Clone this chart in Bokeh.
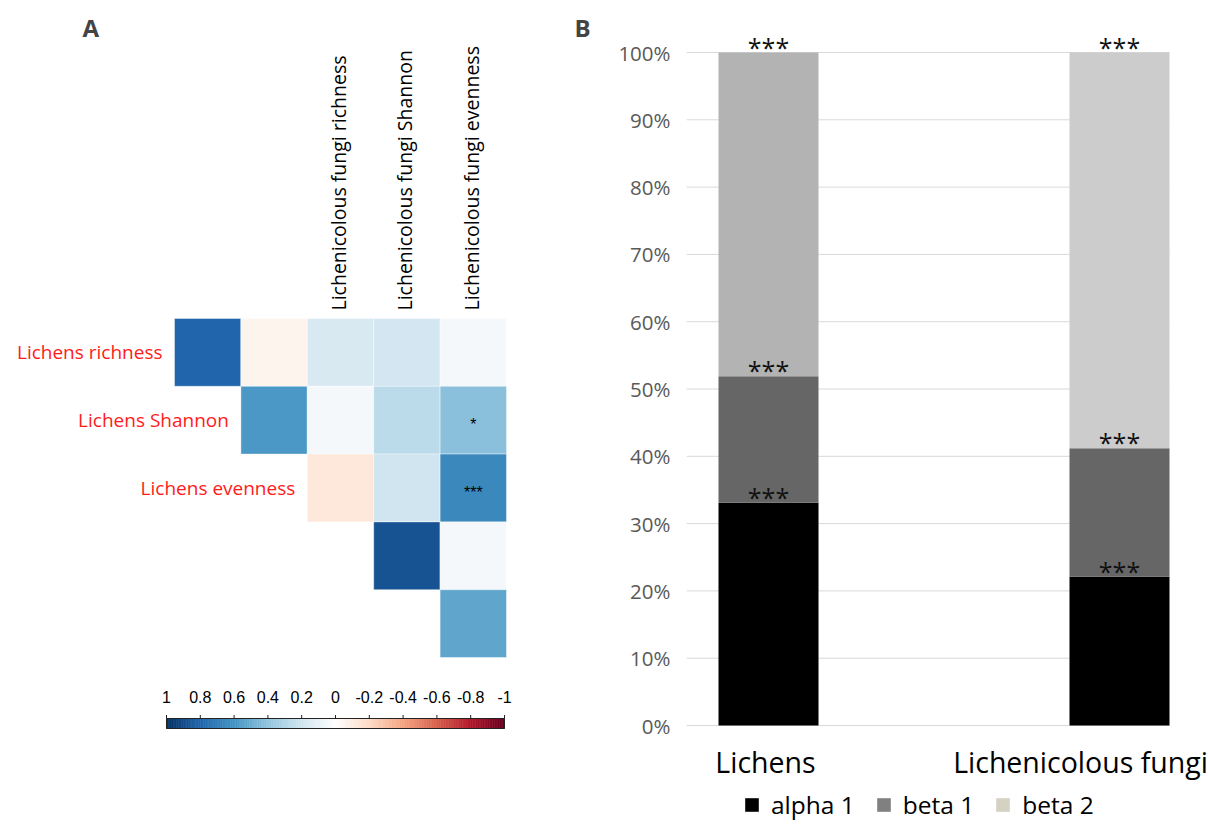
import numpy as np
from bokeh.plotting import figure
from bokeh.models import (Range1d, ColumnDataSource, Label, Legend, LegendItem,
                          FixedTicker, PrintfTickFormatter)
from bokeh.layouts import row
from bokeh.embed import file_html
from bokeh.resources import INLINE
from bokeh.core.properties import value

# ---------------- Panel A: correlation matrix (upper triangle) ----------------
variables = ["Lichens richness", "Lichens Shannon", "Lichens evenness",
             "Lichenicolous fungi richness", "Lichenicolous fungi Shannon",
             "Lichenicolous fungi evenness"]
row_labels = variables[:3]          # labelled rows
col_labels = variables[3:]          # labelled columns
pair_row = [0, 0, 0, 0, 0, 1, 1, 1, 1, 2, 2, 2, 3, 3, 4]
pair_col = [1, 2, 3, 4, 5, 2, 3, 4, 5, 3, 4, 5, 4, 5, 5]
pair_r = [0.80, -0.06, 0.17, 0.19, 0.05,
          0.58, 0.05, 0.27, 0.42,
          -0.13, 0.20, 0.65,
          0.87, 0.05,
          0.53]
pair_sig = ["", "", "", "", "", "", "", "", "*", "", "", "***", "", "", ""]
cbar_ticks = [1.0, 0.8, 0.6, 0.4, 0.2, 0.0, -0.2, -0.4, -0.6, -0.8, -1.0]
cbar_tick_labels = ["1", "0.8", "0.6", "0.4", "0.2", "0", "-0.2", "-0.4", "-0.6", "-0.8", "-1"]

# ---------------- Panel B: stacked percentages ----------------
groups = ["Lichens", "Lichenicolous fungi"]
alpha1 = [33.1, 22.1]
beta1 = [18.8, 19.1]
beta2 = [48.1, 58.8]
alpha1_colors = ["#000000", "#000000"]
beta1_colors = ["#666666", "#666666"]
beta2_colors = ["#b3b3b3", "#cccccc"]
sig_alpha1 = ["***", "***"]
sig_beta1 = ["***", "***"]
sig_beta2 = ["***", "***"]
legend_names = ["alpha 1", "beta 1", "beta 2"]
legend_colors = ["#000000", "#808080", "#d5d1c3"]
y_ticks = list(range(0, 101, 10))

FONT = "Open Sans"
W, H = 1208, 831

# diverging red-blue ramp (-1 red ... +1 blue)
ramp_hex = ["#67001F", "#B2182B", "#D6604D", "#F4A582", "#FDDBC7", "#FFFFFF",
            "#D1E5F0", "#92C5DE", "#4393C3", "#2166AC", "#053061"]
ramp_pos = np.linspace(-1, 1, len(ramp_hex))
ramp_rgb = np.array([[int(h[k:k + 2], 16) for k in (1, 3, 5)] for h in ramp_hex], dtype=float)


def rdbu(v):
    rgb = [int(round(np.interp(v, ramp_pos, ramp_rgb[:, c]))) for c in range(3)]
    return "#%02x%02x%02x" % tuple(rgb)


# ---- panel A figure: the whole canvas is the frame ----
W_A = 600
CELL_W, CELL_H = 66.4, 67.8
HEAT_L, HEAT_T = 174, 318
xa0 = 0.5 - HEAT_L / CELL_W
xa1 = 0.5 + (W_A - HEAT_L) / CELL_W
ya_bottom = -0.5 + (H - HEAT_T) / CELL_H
ya_top = -0.5 - HEAT_T / CELL_H

pa = figure(width=W_A, height=H, x_range=Range1d(xa0, xa1), y_range=Range1d(ya_bottom, ya_top),
            x_axis_location=None, y_axis_location=None, output_backend="svg",
            toolbar_location=None, min_border=0, outline_line_color=None)
pa.grid.visible = False

cells = ColumnDataSource(dict(x=pair_col, y=pair_row, r=pair_r,
                              color=[rdbu(v) for v in pair_r], sig=pair_sig))
pa.rect(x="x", y="y", width=1, height=1, fill_color="color", line_color="white",
        line_width=0.6, line_alpha=0.7, source=cells)
pa.text(x="x", y="y", text="sig", text_align="center", text_baseline="middle", y_offset=4,
        text_font=value("Liberation Sans"), text_font_size="16px", text_color="black", source=cells)

# row labels, right aligned against each row's first cell
pa.text(x=[i + 0.5 for i in range(len(row_labels))], y=list(range(len(row_labels))), text=row_labels,
        text_align="right", text_baseline="middle", x_offset=-12,
        text_font=value(FONT), text_font_size="19px", text_color="#ff1a1a")
# rotated column labels above the matrix
col_idx = [variables.index(c) for c in col_labels]
pa.text(x=col_idx, y=[-0.5] * len(col_idx), text=col_labels, angle=np.pi / 2,
        text_align="left", text_baseline="middle", x_offset=-2, y_offset=-8,
        text_font=value(FONT), text_font_size="19.5px", text_color="black")

# colour bar on its own scales: value +1 at left, -1 at right
CB_L, CB_R, CB_T, CB_B = 166, 504, 718, 728
cb_unit = (CB_R - CB_L) / 2.0
cb_h = CB_B - CB_T
pa.extra_x_ranges = {"cb": Range1d(1 + CB_L / cb_unit, 1 - (W_A - CB_L) / cb_unit)}
pa.extra_y_ranges = {"cb": Range1d(-(H - CB_B) / cb_h, CB_B / cb_h)}
edges = np.linspace(1, -1, 201)
mids = (edges[:-1] + edges[1:]) / 2
cb_cols = [rdbu(m) for m in mids]
pa.quad(left=edges[:-1], right=edges[1:], bottom=0, top=1, fill_color=cb_cols, line_color=cb_cols,
        line_width=0.6, x_range_name="cb", y_range_name="cb")
pa.quad(left=[1], right=[-1], bottom=[0], top=[1], fill_color=None, line_color="#222222",
        line_width=1, x_range_name="cb", y_range_name="cb")
pa.segment(x0=cbar_ticks, y0=[1] * len(cbar_ticks), x1=cbar_ticks, y1=[1.35] * len(cbar_ticks),
           line_color="#222222", line_width=1, x_range_name="cb", y_range_name="cb")
pa.text(x=cbar_ticks, y=[1] * len(cbar_ticks), text=cbar_tick_labels, y_offset=-22,
        text_align="center", text_baseline="middle", text_font=value("Liberation Sans"),
        text_font_size="16px", text_color="black", x_range_name="cb", y_range_name="cb")

# panel letters
pa.add_layout(Label(x=82, y=H - 27, x_units="screen", y_units="screen", text="A",
                    text_font=FONT, text_font_size="24px", text_font_style="bold",
                    text_baseline="alphabetic"))
pa.add_layout(Label(x=574, y=H - 27, x_units="screen", y_units="screen", text="B",
                    text_font=FONT, text_font_size="24px", text_font_style="bold",
                    text_baseline="alphabetic"))

# ---- panel B figure: frame spans full height, y axis in the left border ----
W_B = W - W_A
FR_L = 686                       # left edge of the plotting area on the page
Y0_PX, Y100_PX = 725, 52         # page rows of 0 % and 100 %
BAR_C0, BAR_C1, BAR_W = 768, 1119, 100
unit_b = BAR_C1 - BAR_C0
xb0 = -(BAR_C0 - FR_L) / unit_b
xb1 = 1 + (W - BAR_C1) / unit_b
px_per_pct = (Y0_PX - Y100_PX) / 100.0
yb0 = -(H - Y0_PX) / px_per_pct
yb1 = 100 + Y100_PX / px_per_pct
bar_w = BAR_W / unit_b

pb = figure(width=W_B, height=H, x_range=Range1d(xb0, xb1), y_range=Range1d(yb0, yb1),
            x_axis_location=None, output_backend="svg", toolbar_location=None,
            min_border_left=FR_L - W_A, min_border_right=0, min_border_top=0,
            min_border_bottom=0, outline_line_color=None)
pb.grid.visible = False
pb.yaxis.ticker = FixedTicker(ticks=y_ticks)
pb.yaxis.formatter = PrintfTickFormatter(format="%d%%")
pb.yaxis.axis_line_color = None
pb.yaxis.major_tick_line_color = None
pb.yaxis.minor_tick_line_color = None
pb.yaxis.major_label_text_font = FONT
pb.yaxis.major_label_text_font_size = "20.5px"
pb.yaxis.major_label_text_color = "#595959"
pb.yaxis.major_label_standoff = 10

# horizontal gridlines across the plotting area only
pb.segment(x0=[xb0] * len(y_ticks), x1=[1 + bar_w / 2] * len(y_ticks), y0=y_ticks, y1=y_ticks,
           line_color="#d9d9d9", line_width=1)

xs = list(range(len(groups)))
seg_x, seg_bottom, seg_top, seg_color, seg_sig = [], [], [], [], []
for i in xs:
    base = 0.0
    for vals, cols, sigs in ((alpha1, alpha1_colors, sig_alpha1),
                             (beta1, beta1_colors, sig_beta1),
                             (beta2, beta2_colors, sig_beta2)):
        seg_x.append(i)
        seg_bottom.append(base)
        seg_top.append(base + vals[i])
        seg_color.append(cols[i])
        seg_sig.append(sigs[i])
        base += vals[i]
segs = ColumnDataSource(dict(x=seg_x, bottom=seg_bottom, top=seg_top, color=seg_color, sig=seg_sig))
pb.vbar(x="x", bottom="bottom", top="top", width=bar_w, fill_color="color",
        line_color=None, source=segs)
pb.text(x="x", y="top", text="sig", source=segs, text_align="center",
        text_baseline="alphabetic", y_offset=-6, text_font=value(FONT),
        text_font_size="25px", text_color="#111111")

# category names under the bars
pb.text(x=xs, y=[0] * len(xs), text=groups, x_offset=[-3, -39], y_offset=36,
        text_align="center", text_baseline="middle", text_font=value(FONT),
        text_font_size="28.5px", text_color="black")

# legend swatches (renderers carry only the swatch style)
items = []
for name, col in zip(legend_names, legend_colors):
    r = pb.vbar(x=[np.nan], top=[np.nan], width=0.1, fill_color=col, line_color=None)
    items.append(LegendItem(label=name, renderers=[r]))
legend = Legend(items=items, orientation="horizontal", location=(57, 10),
                glyph_width=17, glyph_height=17, label_standoff=11, spacing=20,
                padding=0, margin=0, border_line_color=None, background_fill_alpha=0,
                label_text_font=FONT, label_text_font_size="24.5px", label_text_color="black")
pb.add_layout(legend, "center")

layout = row(pa, pb, spacing=0)
open("out.html", "w").write(file_html(layout, INLINE))
